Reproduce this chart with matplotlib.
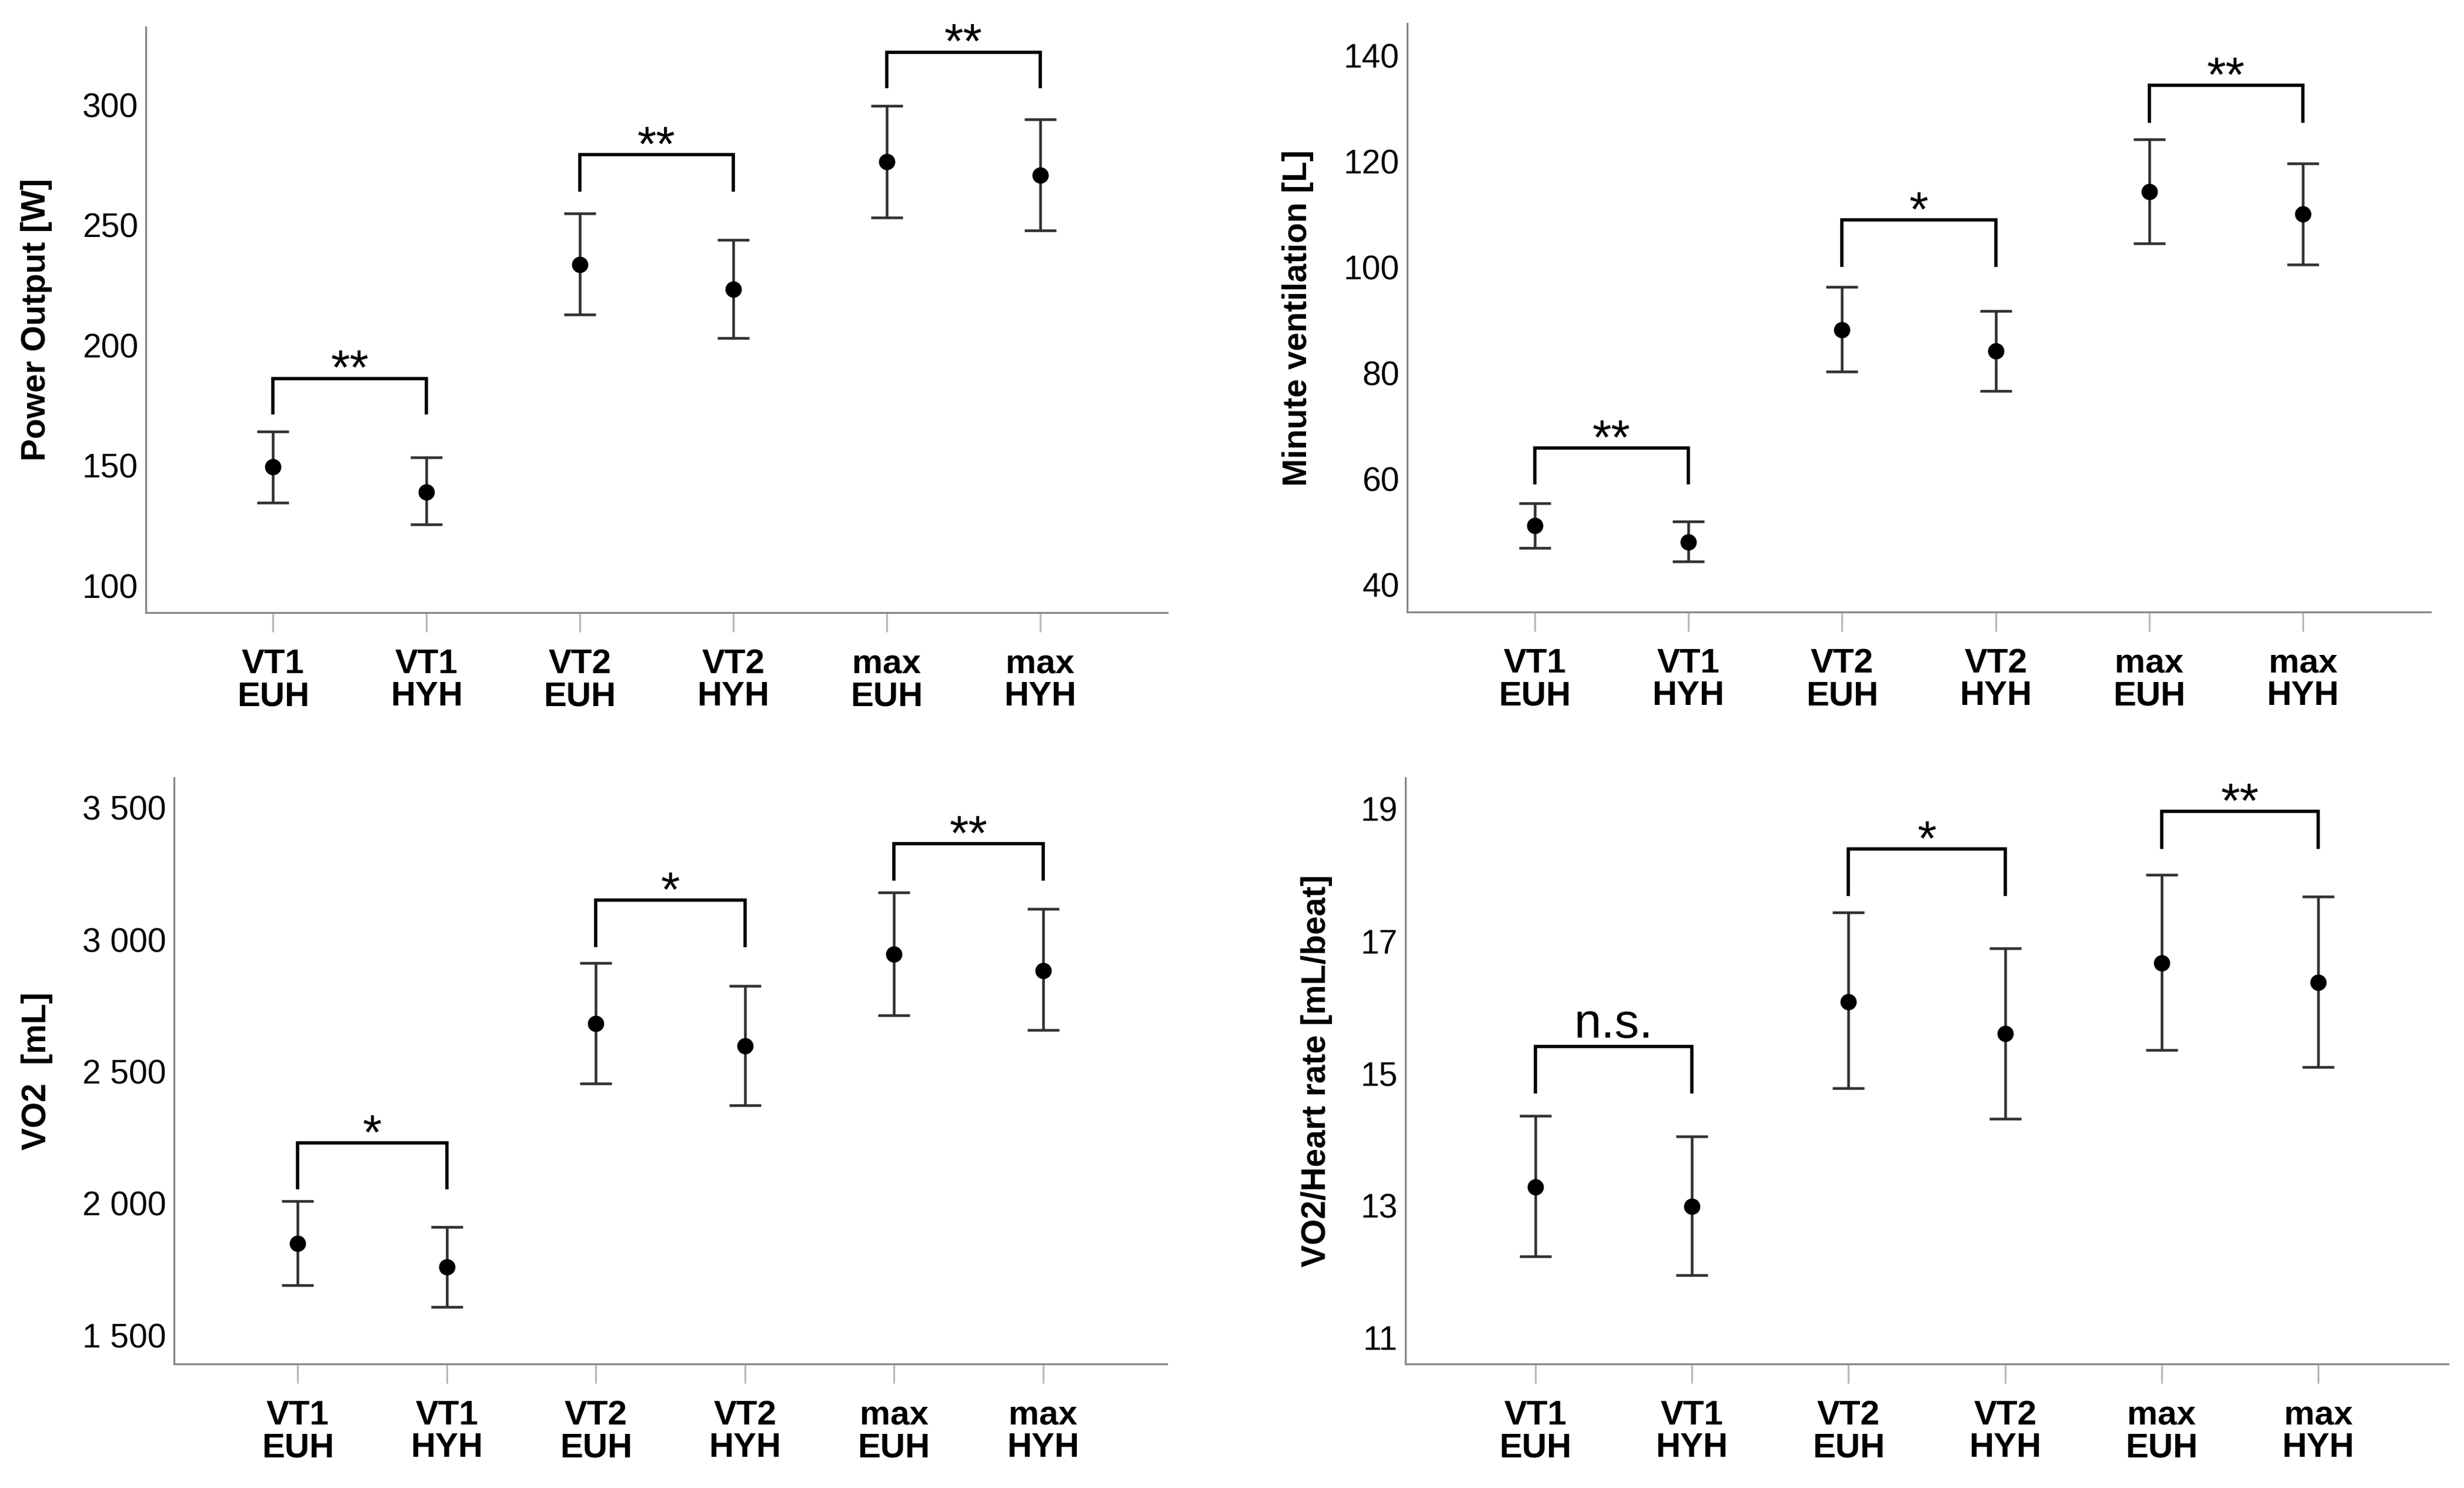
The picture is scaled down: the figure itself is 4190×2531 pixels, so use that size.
import matplotlib
matplotlib.use("Agg")
import matplotlib.pyplot as plt

plt.rcParams["font.family"] = ["Liberation Sans", "DejaVu Sans"]

W, H = 4190, 2531
DPI = 250

labels = ["VT1\nEUH", "VT1\nHYH", "VT2\nEUH", "VT2\nHYH", "max\nEUH", "max\nHYH"]
pairs = [(1, 2), (3, 4), (5, 6)]

# power output [W]
power_mean = [149.4, 139.0, 233.5, 223.2, 276.4, 270.7]
power_low = [134.6, 125.4, 212.8, 203.0, 253.1, 247.6]
power_high = [164.2, 153.3, 254.7, 243.7, 299.6, 293.9]
power_sig = ["**", "**", "**"]
power_br_top = [186.2, 279.3, 321.9]
power_br_leg = [171.3, 263.8, 306.9]
power_ticks = [100, 150, 200, 250, 300]
power_ticklabels = ["100", "150", "200", "250", "300"]

# minute ventilation [L]
ve_mean = [51.1, 48.0, 88.1, 84.1, 114.2, 110.0]
ve_low = [46.9, 44.3, 80.2, 76.6, 104.4, 100.4]
ve_high = [55.3, 51.9, 96.2, 91.7, 124.1, 119.6]
ve_sig = ["**", "*", "**"]
ve_br_top = [65.8, 108.9, 134.3]
ve_br_leg = [58.9, 100.0, 127.2]
ve_ticks = [40, 60, 80, 100, 120, 140]
ve_ticklabels = ["40", "60", "80", "100", "120", "140"]

# VO2 [mL]
vo2_mean = [1847, 1758, 2681, 2597, 2944, 2883]
vo2_low = [1690, 1608, 2455, 2371, 2712, 2656]
vo2_high = [2009, 1910, 2912, 2823, 3179, 3115]
vo2_sig = ["*", "*", "**"]
vo2_br_top = [2228, 3149, 3364]
vo2_br_leg = [2052, 2971, 3222]
vo2_ticks = [1500, 2000, 2500, 3000, 3500]
vo2_ticklabels = ["1 500", "2 000", "2 500", "3 000", "3 500"]

# VO2 / heart rate [mL/beat]
pulse_mean = [13.28, 12.98, 16.08, 15.60, 16.67, 16.37]
pulse_low = [12.23, 11.94, 14.77, 14.31, 15.35, 15.09]
pulse_high = [14.35, 14.04, 17.43, 16.89, 18.00, 17.67]
pulse_sig = ["n.s.", "*", "**"]
pulse_br_top = [15.40, 18.39, 18.96]
pulse_br_leg = [14.69, 17.68, 18.39]
pulse_ticks = [11, 13, 15, 17, 19]
pulse_ticklabels = ["11", "13", "15", "17", "19"]

panels = [
    # box = axes in px (left, right, top, bottom); lab_d = spine-to-ylabel distance in px
    dict(box=(248, 1985, 46, 1042), ylim=(88.8, 332.3), ylabel="Power Output [W]", lab_d=186,
         mean=power_mean, low=power_low, high=power_high, sig=power_sig,
         br_top=power_br_top, br_leg=power_br_leg, ticks=power_ticks, ticklabels=power_ticklabels),
    dict(box=(2393, 4133, 40, 1041), ylim=(34.8, 146.0), ylabel="Minute ventilation [L]", lab_d=186,
         mean=ve_mean, low=ve_low, high=ve_high, sig=ve_sig,
         br_top=ve_br_top, br_leg=ve_br_leg, ticks=ve_ticks, ticklabels=ve_ticklabels),
    dict(box=(296, 1984, 1323, 2320), ylim=(1391, 3613), ylabel="VO2  [mL]", lab_d=233,
         mean=vo2_mean, low=vo2_low, high=vo2_high, sig=vo2_sig,
         br_top=vo2_br_top, br_leg=vo2_br_leg, ticks=vo2_ticks, ticklabels=vo2_ticklabels),
    dict(box=(2390, 4163, 1323, 2320), ylim=(10.6, 19.47), ylabel="VO2/Heart rate [mL/beat]", lab_d=151,
         mean=pulse_mean, low=pulse_low, high=pulse_high, sig=pulse_sig,
         br_top=pulse_br_top, br_leg=pulse_br_leg, ticks=pulse_ticks, ticklabels=pulse_ticklabels),
]

fig = plt.figure(figsize=(W / DPI, H / DPI), dpi=DPI)
x = list(range(1, len(labels) + 1))

for p in panels:
    l, r, t, b = p["box"]
    ax = fig.add_axes([l / W, 1 - b / H, (r - l) / W, (b - t) / H])

    err_lo = [m - lo for m, lo in zip(p["mean"], p["low"])]
    err_hi = [hi - m for m, hi in zip(p["mean"], p["high"])]
    ax.errorbar(x, p["mean"], yerr=[err_lo, err_hi], fmt="o", color="black",
                markersize=7, ecolor="#303030", elinewidth=1.3, capsize=7.8,
                capthick=1.3, zorder=3)

    # significance brackets
    for (i, j), s, top, leg in zip(pairs, p["sig"], p["br_top"], p["br_leg"]):
        ax.plot([i, i, j, j], [leg, top, top, leg], color="black", lw=1.6,
                solid_joinstyle="miter", solid_capstyle="butt", zorder=2)
        off = 4.5 if s == "n.s." else -3
        ax.annotate(s, xy=((i + j) / 2, top), xytext=(0, off), textcoords="offset points",
                    ha="center", va="baseline", fontsize=24, color="black")

    ax.set_xlim(0.17, 6.83)
    ax.set_ylim(*p["ylim"])
    ax.set_xticks(x)
    ax.set_xticklabels(labels, fontsize=16.8, fontweight="bold", linespacing=1.03)
    ax.set_yticks(p["ticks"])
    ax.set_yticklabels(p["ticklabels"], fontsize=16.4)
    ax.tick_params(axis="x", length=9.6, width=0.9, color="#b8b8b8", pad=8)
    ax.tick_params(axis="y", length=0, pad=3.8)

    for side in ["top", "right"]:
        ax.spines[side].set_visible(False)
    for side in ["left", "bottom"]:
        ax.spines[side].set_color("#858585")
        ax.spines[side].set_linewidth(0.9)

    ax.set_ylabel(p["ylabel"], fontsize=16.4, fontweight="bold")
    ax.yaxis.label.set_va("center")
    ax.yaxis.set_label_coords(-p["lab_d"] / (r - l), 0.5)

fig.savefig("out.png", dpi=DPI, facecolor="white")
